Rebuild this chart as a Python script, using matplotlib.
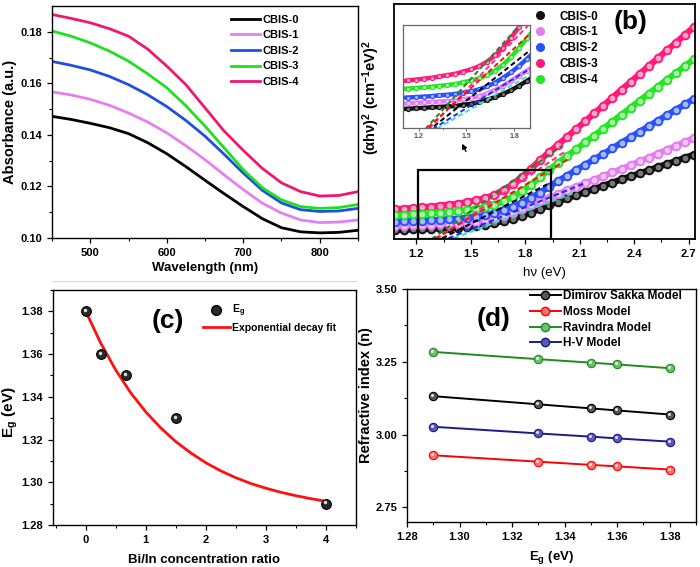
import numpy as np
import matplotlib.pyplot as plt
from matplotlib.lines import Line2D
from matplotlib.patches import Rectangle
from matplotlib.transforms import ScaledTranslation

plt.rcParams['font.family'] = ['Liberation Sans', 'DejaVu Sans']
plt.rcParams['font.weight'] = 'bold'
plt.rcParams['axes.labelweight'] = 'bold'
plt.rcParams['mathtext.fontset'] = 'custom'
plt.rcParams['mathtext.rm'] = 'Liberation Sans:bold'
plt.rcParams['mathtext.bf'] = 'Liberation Sans:bold'
plt.rcParams['mathtext.it'] = 'Liberation Sans:bold'

# ---------------- (a) absorbance spectra
wl = [450, 475, 500, 525, 550, 575, 600, 625, 650, 675, 700, 725, 750, 775, 800, 825, 850]
abs_0 = [.1472, .1460, .1445, .1428, .1405, .1370, .1327, .1277, .1224, .1172, .1122,
         .1075, .1040, .1024, .1020, .1022, .1030]
abs_1 = [.1567, .1555, .1538, .1515, .1485, .1450, .1408, .1358, .1304, .1245, .1188,
         .1135, .1097, .1070, .1060, .1062, .1070]
abs_2 = [.1685, .1670, .1652, .1627, .1595, .1556, .1510, .1456, .1395, .1325, .1252,
         .1185, .1136, .1110, .1103, .1105, .1115]
abs_3 = [.1803, .1783, .1757, .1725, .1686, .1637, .1583, .1513, .1434, .1350, .1265,
         .1195, .1148, .1122, .1115, .1118, .1130]
abs_4 = [.1867, .1852, .1835, .1812, .1783, .1733, .1667, .1595, .1505, .1415, .1340,
         .1270, .1214, .1180, .1163, .1165, .1180]

# ---------------- (b) Tauc plot (arbitrary units)
hv = [1.08, 1.13, 1.18, 1.23, 1.28, 1.33, 1.38, 1.43, 1.48, 1.53, 1.58, 1.63, 1.68, 1.73,
      1.78, 1.83, 1.88, 1.93, 1.98, 2.03, 2.08, 2.13, 2.18, 2.23, 2.28, 2.33, 2.38, 2.43,
      2.48, 2.53, 2.58, 2.63, 2.68, 2.73]
tauc_0 = [2.7, 2.8, 2.9, 3.0, 3.1, 3.2, 3.3, 3.4, 3.7, 3.9, 4.3, 4.8, 5.4, 6.1, 6.9, 7.9,
          9.0, 10.1, 11.2, 12.2, 13.1, 14.1, 15.0, 16.0, 16.9, 17.9, 18.8, 19.7, 20.6,
          21.6, 22.5, 23.4, 24.4, 25.3]
tauc_1 = [3.9, 4.0, 4.1, 4.2, 4.3, 4.4, 4.5, 4.6, 4.9, 5.2, 5.6, 6.2, 7.0, 7.9, 9.0, 10.2,
          11.3, 12.4, 13.5, 14.6, 15.7, 16.7, 17.8, 18.9, 20.0, 21.0, 22.1, 23.3, 24.4,
          25.6, 26.8, 27.9, 29.1, 30.3]
tauc_2 = [5.2, 5.3, 5.4, 5.5, 5.6, 5.8, 5.9, 6.1, 6.4, 6.7, 7.1, 7.8, 8.6, 9.7, 10.9, 12.3,
          13.9, 15.6, 17.4, 19.0, 20.7, 22.3, 23.9, 25.5, 27.2, 28.9, 30.5, 32.2, 33.8,
          35.5, 37.1, 38.8, 40.4, 42.1]
tauc_3 = [8.9, 9.1, 9.3, 9.5, 9.7, 10.0, 10.3, 10.6, 11.1, 11.6, 12.3, 13.3, 14.7, 16.4,
          18.6, 21.0, 23.6, 26.0, 28.3, 30.6, 33.0, 35.3, 37.7, 40.0, 42.4, 44.8, 47.1,
          49.5, 51.9, 54.2, 56.6, 58.9, 61.3, 63.6]
tauc_4 = [7.2, 7.3, 7.4, 7.6, 7.7, 7.9, 8.1, 8.3, 8.7, 9.1, 9.6, 10.3, 11.3, 12.6, 14.3,
          16.3, 18.5, 20.7, 22.8, 24.9, 26.9, 29.0, 31.0, 33.1, 35.2, 37.3, 39.4, 41.5,
          43.6, 45.7, 47.8, 49.8, 51.9, 54.0]
# linear Tauc fits: x-intercept, slope, end of drawn segment
fit_x0 = [1.285, 1.31, 1.30, 1.335, 1.367, 1.394]
fit_slope = [39.0, 37.0, 32.5, 28.0, 22.0, 20.5]
fit_end = [2.00, 2.02, 2.04, 1.92, 2.12, 2.06]

# ---------------- (c) band gap vs ratio
ratio = [0, 0.25, 0.667, 1.5, 4]
eg = [1.38, 1.36, 1.35, 1.33, 1.29]
fit_ratio = [0, 0.25, 0.5, 0.75, 1.0, 1.25, 1.5, 1.75, 2.0, 2.25, 2.5, 2.75, 3.0, 3.25,
             3.5, 3.75, 4.0]
fit_eg = [1.380, 1.3651, 1.3525, 1.3418, 1.3329, 1.3254, 1.3190, 1.3137, 1.3091, 1.3053,
          1.3021, 1.2994, 1.2972, 1.2953, 1.2937, 1.2923, 1.2911]

# ---------------- (d) refractive index models
eg_d = [1.29, 1.33, 1.35, 1.36, 1.38]
n_ds = [3.132, 3.104, 3.090, 3.083, 3.069]
n_moss = [2.929, 2.907, 2.896, 2.891, 2.880]
n_rav = [3.284, 3.259, 3.247, 3.241, 3.228]
n_hv = [3.027, 3.004, 2.993, 2.987, 2.976]


fig = plt.figure(figsize=(7, 5.67), dpi=100)
tick_kw = dict(direction='out', labelsize=8, width=0.9, length=3.5)


def style(ax):
    for s in ax.spines.values():
        s.set_linewidth(1.0)
    ax.tick_params(which='major', **tick_kw)
    ax.tick_params(which='minor', direction='out', width=0.8, length=2)


def balls(ax, x, y, face, edge, ms, z=3):
    ax.plot(x, y, 'o', ms=ms, mfc=face, mec=edge, mew=0.8, zorder=z)
    off = ScaledTranslation(-ms * 0.12 / 72, ms * 0.12 / 72, fig.dpi_scale_trans)
    ax.plot(x, y, 'o', ms=ms * 0.35, mfc='white', mec='none', alpha=0.85,
            transform=ax.transData + off, zorder=z + 0.1)


# faint separator left between the upper and lower rows
fig.add_artist(Line2D([52 / 700, 356 / 700], [1 - 281 / 567, 1 - 281 / 567],
                      color='#d8d8d8', lw=0.8))

# ---- (a)
ax = fig.add_axes([0.0743, 0.5802, 0.4371, 0.4092])
cols_a = ['black', '#e57ff0', '#1f4fe0', '#1fe01f', '#f0186e']
for y, c, lab in zip([abs_0, abs_1, abs_2, abs_3, abs_4], cols_a,
                     ['CBIS-0', 'CBIS-1', 'CBIS-2', 'CBIS-3', 'CBIS-4']):
    ax.plot(wl, y, color=c, lw=2.0, label=lab)
ax.set_xlim(450, 850)
ax.set_ylim(0.10, 0.19)
ax.set_xticks([500, 600, 700, 800])
ax.set_xticks([450, 550, 650, 750, 850], minor=True)
ax.set_yticks([0.10, 0.12, 0.14, 0.16, 0.18])
ax.set_yticks([0.11, 0.13, 0.15, 0.17], minor=True)
ax.set_xlabel('Wavelength (nm)', fontsize=9.5, labelpad=3)
ax.set_ylabel('Absorbance (a.u.)', fontsize=10.5)
ax.yaxis.set_label_coords(-0.113, 0.5)
style(ax)
ax.legend(loc='upper left', bbox_to_anchor=(0.585, 0.962), frameon=False, fontsize=8,
          handlelength=2.6, handletextpad=0.2, labelspacing=0.5, borderpad=0,
          borderaxespad=0)
ax.text(190, 0.1775, '(a)', fontsize=19, ha='center', va='center')

# ---- (b)
ax = fig.add_axes([0.5629, 0.5785, 0.43, 0.4145])
cols_b = ['#111111', '#e27cf0', '#2850ff', '#ff1a7a', '#22e622']
light_b = ['#777777', '#f4c6fa', '#a8baff', '#ffa6c8', '#aaf5aa']
series_b = [tauc_0, tauc_1, tauc_2, tauc_3, tauc_4]
for y, c, lc in zip(series_b, cols_b, light_b):
    ax.plot(hv, y, color=c, lw=4.5, zorder=2)
    ax.plot(hv, y, 'o', ms=5.5, mfc=lc, mec=c, mew=1.4, zorder=2.5)
fit_cols = ['#1f8a1f', '#ff2d8a', '#ff1010', '#000000', '#1c2cff', '#38e0c8']
for x0, k, xe, c in zip(fit_x0, fit_slope, fit_end, fit_cols):
    xs = np.array([x0 - 0.08, xe])
    ax.plot(xs, k * (xs - x0), color=c, lw=1.5, ls=(0, (2.6, 1.6)), zorder=3)
ax.add_patch(Rectangle((1.209, 0), 0.73, 20.7, fill=False, ec='black', lw=1.6, zorder=4))
ax.set_xlim(1.077, 2.735)
ax.set_ylim(0, 70.5)
ax.set_xticks([1.2, 1.5, 1.8, 2.1, 2.4, 2.7])
ax.set_xticks([1.35, 1.65, 1.95, 2.25, 2.55], minor=True)
ax.set_yticks([])
ax.set_xlabel('h\u03bd (eV)', fontsize=9.5, labelpad=6, fontweight='normal')
ax.set_ylabel('(\u03b1h\u03bd)$^{2}$ (cm$^{-1}$eV)$^{2}$', fontsize=10.5)
ax.yaxis.set_label_coords(-0.041, 0.6)
style(ax)
for s in ax.spines.values():
    s.set_linewidth(1.3)
hb = [Line2D([], [], ls='none', marker='o', ms=5.5, mfc=c, mec=c) for c in cols_b]
ax.legend(hb, ['CBIS-0', 'CBIS-1', 'CBIS-2', 'CBIS-3', 'CBIS-4'], loc='upper left',
          bbox_to_anchor=(0.455, 0.972), frameon=False, fontsize=8.5, handlelength=1.5,
          handletextpad=0.9, labelspacing=0.33, borderpad=0, borderaxespad=0)
ax.text(0.785, 0.925, '(b)', fontsize=19, ha='center', va='center', transform=ax.transAxes)
ax.annotate('', xy=(0.222, 0.416), xytext=(0.243, 0.362), xycoords='axes fraction',
            arrowprops=dict(arrowstyle='-|>', color='black', lw=1.0,
                            mutation_scale=7))

# inset
ins = fig.add_axes([0.5757, 0.7743, 0.1814, 0.1817])
for y, c, lc in zip(series_b, cols_b, light_b):
    ins.plot(hv, y, color=c, lw=3.2, zorder=2)
    ins.plot(hv, y, 'o', ms=3, mfc=lc, mec=c, mew=0.8, zorder=2.5)
for x0, k, xe, c in zip(fit_x0, fit_slope, fit_end, fit_cols):
    xs = np.array([x0 - 0.08, xe])
    ins.plot(xs, k * (xs - x0), color=c, lw=1.4, ls=(0, (2.6, 1.6)), zorder=3)
ins.set_xlim(1.1, 1.9)
ins.set_ylim(-1.5, 21.5)
ins.set_xticks([1.2, 1.5, 1.8])
ins.set_xticks([1.35, 1.65], minor=True)
ins.set_yticks([])
ins.tick_params(which='major', direction='out', labelsize=5, length=2, width=0.6,
                colors='#555555', pad=1.5)
ins.tick_params(which='minor', direction='out', length=1.2, width=0.5, colors='#555555')
for s in ins.spines.values():
    s.set_linewidth(0.9)
    s.set_color('#666666')

# ---- (c)
ax = fig.add_axes([0.0753, 0.0741, 0.4333, 0.4145])
ax.plot(fit_ratio, fit_eg, color='#ff1010', lw=2.0, zorder=2)
balls(ax, ratio, eg, '#2a2a2a', 'black', 7)
ax.set_xlim(-0.55, 4.5)
ax.set_ylim(1.28, 1.39)
ax.set_xticks([0, 1, 2, 3, 4])
ax.set_xticks([-0.5, 0.5, 1.5, 2.5, 3.5, 4.5], minor=True)
ax.set_yticks([1.28, 1.30, 1.32, 1.34, 1.36, 1.38])
ax.set_yticks([1.29, 1.31, 1.33, 1.35, 1.37, 1.39], minor=True)
ax.set_xlabel('Bi/In concentration ratio', fontsize=9.5, labelpad=7)
ax.set_ylabel('E$_{g}$ (eV)', fontsize=11)
ax.yaxis.set_label_coords(-0.108, 0.48)
style(ax)
hc = [Line2D([], [], ls='none', marker='o', ms=7, mfc='#2a2a2a', mec='black'),
      Line2D([], [], color='#ff1010', lw=2.0)]
ax.legend(hc, ['E$_{g}$', 'Exponential decay fit'], loc='upper left',
          bbox_to_anchor=(0.495, 0.945), frameon=False, fontsize=7.5, handlelength=2.6,
          handletextpad=0.2, labelspacing=0.35, borderpad=0, borderaxespad=0)
ax.text(0.38, 0.87, '(c)', fontsize=19, ha='center', va='center', transform=ax.transAxes)

# ---- (d)
ax = fig.add_axes([0.5814, 0.0794, 0.4129, 0.4109])
models = [(n_ds, 'black', '#555555', 'Dimirov Sakka Model'),
          (n_moss, '#ff0000', '#ff7070', 'Moss Model'),
          (n_rav, '#1e8c1e', '#6cc06c', 'Ravindra Model'),
          (n_hv, '#1a1a8c', '#5a5ab8', 'H-V Model')]
hd = []
for y, c, lc, lab in models:
    ax.plot(eg_d, y, color=c, lw=1.4, zorder=2)
    balls(ax, eg_d, y, lc, c, 6)
    hd.append(Line2D([], [], color=c, lw=1.4, marker='o', ms=6, mfc=lc, mec=c))
ax.set_xlim(1.28, 1.39)
ax.set_ylim(2.70, 3.50)
ax.set_xticks([1.28, 1.30, 1.32, 1.34, 1.36, 1.38])
ax.set_xticks([1.29, 1.31, 1.33, 1.35, 1.37, 1.39], minor=True)
ax.set_yticks([2.75, 3.00, 3.25, 3.50])
ax.set_yticks([2.875, 3.125, 3.375], minor=True)
ax.set_xlabel('E$_{g}$ (eV)', fontsize=9.5, labelpad=5)
ax.set_ylabel('Refractive index (n)', fontsize=10.5)
ax.yaxis.set_label_coords(-0.118, 0.545)
style(ax)
ax.legend(hd, [m[3] for m in models], loc='upper left', bbox_to_anchor=(0.425, 0.995),
          frameon=False, fontsize=8.5, handlelength=2.6, handletextpad=0.2,
          labelspacing=0.32, borderpad=0, borderaxespad=0)
ax.text(0.30, 0.87, '(d)', fontsize=19, ha='center', va='center', transform=ax.transAxes)

fig.savefig('out.png', dpi=100, facecolor='white')
